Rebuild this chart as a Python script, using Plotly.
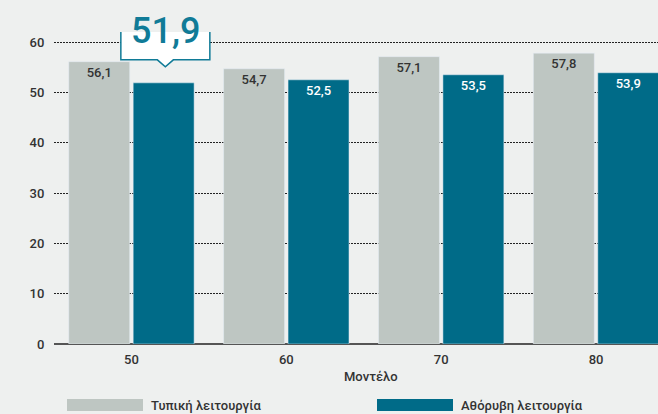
import plotly.graph_objects as go

categories = ["50", "60", "70", "80"]
typical = [56.1, 54.7, 57.1, 57.8]
silent = [51.9, 52.5, 53.5, 53.9]
silent_labels = ["", "52,5", "53,5", "53,9"]
typical_labels = [f"{v:.1f}".replace(".", ",") for v in typical]
highlight_value = silent[0]
y_ticks = [0, 10, 20, 30, 40, 50, 60]

GRAY = "#bec6c2"
BLUE = "#006b88"
TEAL = "#107b97"
BG = "#eef0ef"
TXT = "#333333"
FONT = "Roboto"
W, H = 658, 414
ML, MR, MT, MB = 54, 0, 32, 70

fig = go.Figure()
fig.add_trace(go.Bar(
    x=categories, y=typical, name="Τυπική λειτουργία", marker_color=GRAY,
    text=typical_labels, textposition="inside", insidetextanchor="end",
    textfont=dict(color=TXT, size=13, family=FONT, weight=500), constraintext="none",
    hoverinfo="skip",
))
fig.add_trace(go.Bar(
    x=categories, y=silent, name="Αθόρυβη λειτουργία", marker_color=BLUE,
    text=silent_labels, textposition="inside", insidetextanchor="end",
    textfont=dict(color="white", size=13, family=FONT, weight=500), constraintext="none",
    hoverinfo="skip",
))

fig.update_layout(
    width=W, height=H,
    margin=dict(l=ML, r=MR, t=MT, b=MB),
    paper_bgcolor=BG, plot_bgcolor=BG,
    barmode="group", bargap=0.168, bargroupgap=0.054,
    showlegend=False,
    font=dict(family=FONT, size=13, color=TXT),
    xaxis=dict(
        type="category", range=[-0.5, 3.4], showgrid=False,
        showline=False, zeroline=False, ticks="outside", ticklen=3, tickcolor=BG,
        fixedrange=True,
        tickfont=dict(size=13, color=TXT, family=FONT, weight=500),
    ),
    yaxis=dict(
        range=[0, 62], tickvals=y_ticks, showgrid=True,
        gridcolor="#222222", griddash="1.5px,1.5px", gridwidth=1.3,
        zeroline=True, zerolinecolor="#555555", zerolinewidth=2,
        showline=False, ticks="outside", ticklen=6, tickcolor=BG,
        tickfont=dict(size=13, color=TXT, family=FONT, weight=500),
    ),
)

# callout above highlighted bar
off = 0.219
fig.add_shape(
    type="path", xref="x", yref="y", xsizemode="pixel", ysizemode="pixel",
    xanchor=0 + off, yanchor=highlight_value,
    path="M -44.5 23 L -8 23 L 0 16 L 8 23 L 44.5 23 L 44.5 82 L -44.5 82 Z",
    fillcolor="white", line=dict(color=TEAL, width=1.5), layer="above",
)
fig.add_annotation(
    x=0 + off, y=highlight_value, xref="x", yref="y",
    text=f"{highlight_value:.1f}".replace(".", ","), showarrow=False,
    yshift=52, yanchor="middle", font=dict(size=36, color=TEAL, family=FONT, weight=500),
)

pw = W - ML - MR
ph = H - MT - MB
def px_x(p):
    return (p - ML) / pw
def px_y(p):
    return (H - MB - p) / ph

# axis title
fig.add_annotation(
    x=px_x(371), y=px_y(376), xref="paper", yref="paper", text="Μοντέλο",
    xanchor="center", yanchor="middle",
    showarrow=False, font=dict(size=13, color=TXT, family=FONT, weight=500),
)

# legend
for (x0, x1, col, label) in [(67, 143, GRAY, "Τυπική λειτουργία"), (377, 453, BLUE, "Αθόρυβη λειτουργία")]:
    fig.add_shape(type="rect", xref="paper", yref="paper",
                  x0=px_x(x0), x1=px_x(x1), y0=px_y(411), y1=px_y(399),
                  fillcolor=col, line_width=0)
    fig.add_annotation(x=px_x(x1 + 6), y=px_y(405), xref="paper", yref="paper",
                       xanchor="left", yanchor="middle", text=label, showarrow=False,
                       font=dict(size=13, color=TXT, family=FONT, weight=500))

fig.write_html(
    "out.html",
    config={"displayModeBar": False},
    post_script="document.body.style.margin='0';document.body.style.overflow='hidden';",
)
